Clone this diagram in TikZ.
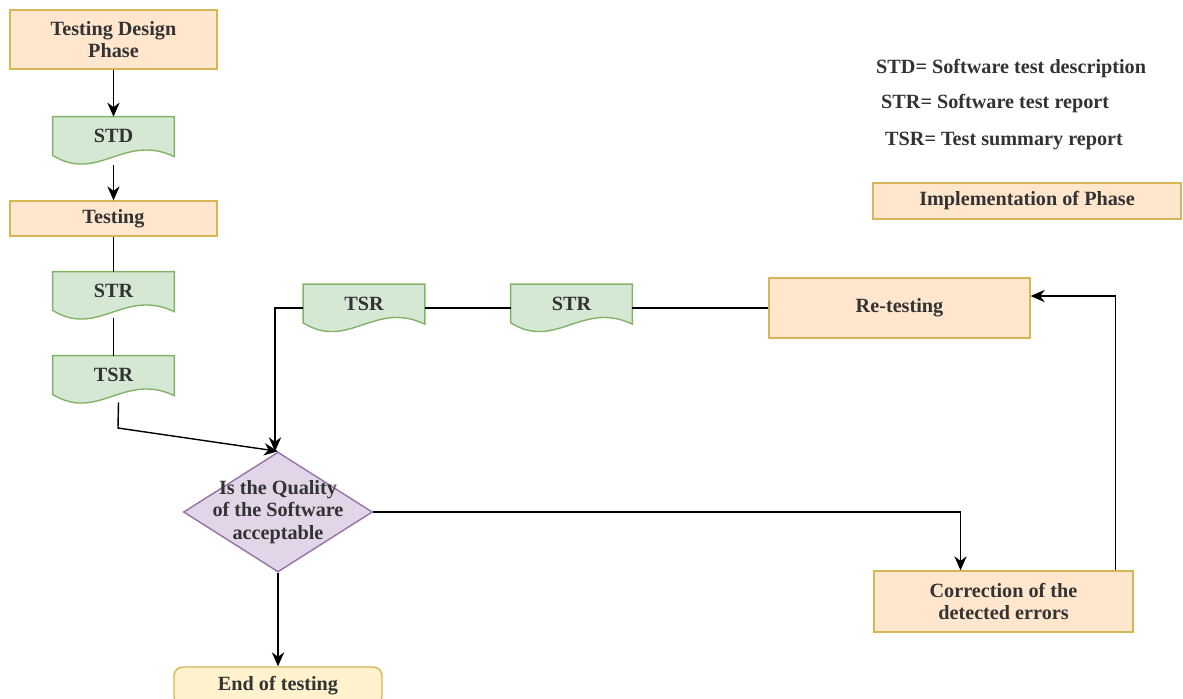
\documentclass[tikz,border=0pt]{standalone}
\usepackage{fontspec}
\setmainfont{Liberation Serif}
\usetikzlibrary{arrows.meta,backgrounds,shapes.geometric}
\definecolor{phasefill}{HTML}{FFE6CC}
\definecolor{phaseline}{HTML}{D6B656}
\definecolor{docfill}{HTML}{D5E8D4}
\definecolor{docline}{HTML}{82B366}
\definecolor{askfill}{HTML}{E1D5E7}
\definecolor{askline}{HTML}{9673A6}
\definecolor{endfill}{HTML}{FFF2CC}
\tikzset{
  every node/.style={font=\fontsize{11.5}{13}\selectfont\bfseries, text=black!80},
  phase/.style={draw=phaseline, fill=phasefill, line width=0.8pt, align=center, inner sep=2pt},
  doc/.style={minimum width=2.42cm, minimum height=0.76cm, inner sep=0pt},
  docpath/.style={draw=docline, fill=docfill, line width=0.8pt},
  ask/.style={diamond, draw=askline, fill=askfill, line width=0.8pt, inner sep=0pt, minimum width=3.78cm, minimum height=2.4cm},
  flow/.style={line width=0.8pt, -{Stealth[length=8pt,width=7pt]}},
  link/.style={line width=0.8pt}
}
\newcommand{\docshape}[1]{%
  \path[docpath] (#1.north west) -- (#1.north east) -- ++(0,40)
    .. controls +(-50,-24) and +(45,28) .. (#1.south west) -- cycle;}
\begin{document}
\begin{tikzpicture}[x=0.02cm,y=-0.02cm]
\useasboundingbox (0,0) rectangle (1183,698);

\node[phase, minimum width=4.14cm, minimum height=1.18cm] (tdp) at (113.5,39.5) {Testing Design\\Phase};
\node[doc] (std) at (113.5,136) {STD};
\node[phase, minimum width=4.14cm, minimum height=0.7cm] (test) at (113.5,218.5) {Testing};
\node[doc] (strA) at (113.5,291) {STR};
\node[doc] (tsrA) at (113.5,375) {TSR};

\node[doc] (tsrB) at (364,303.5) {TSR};
\node[doc] (strB) at (571.5,303.5) {STR};
\node[phase, minimum width=5.22cm, minimum height=1.2cm] (retest) at (899.5,308) {Re-testing};

\node[ask, label={[align=center]center:Is the Quality\\of the Software\\acceptable}] (ask) at (278,512) {};
\node[phase, minimum width=5.18cm, minimum height=1.22cm] (fix) at (1003.5,601.5) {Correction of the\\detected errors};
\node[phase, fill=endfill, rounded corners=5pt, minimum width=4.16cm, minimum height=0.76cm] (end) at (278,686) {End of testing};

\node[anchor=west] (lstd) at (870,69) {STD= Software test description};
\node[anchor=west] (lstr) at (875,104) {STR= Software test report};
\node[anchor=west] (ltsr) at (879,141) {TSR= Test summary report};
\node[phase, minimum width=6.16cm, minimum height=0.72cm] (impl) at (1027,201) {Implementation of Phase};

\begin{scope}[on background layer]
\foreach \n in {std,strA,tsrA,tsrB,strB} {\docshape{\n}}
\end{scope}

\coordinate (bend) at (118,428);
\draw[flow] (tdp.south) -- (std.north);
\draw[flow] ([yshift=-0.2cm]std.south) -- (test.north);
\draw[link] (test.south) -- (strA.north);
\draw[link] ([yshift=-0.16cm]strA.south) -- (tsrA.north);
\draw[flow] ([xshift=0.1cm,yshift=-0.16cm]tsrA.south) -- (bend) -- (ask.north);
\draw[link] (retest.west) -- (retest.west -| strB.east);
\draw[link] (strB.west |- retest.west) -- (tsrB.east |- retest.west);
\draw[flow] (tsrB.west |- retest.west) -| ([xshift=-0.06cm]ask.north);
\draw[flow] (ask.east) -| ([xshift=-0.86cm]fix.north);
\draw[flow] ([xshift=-0.36cm]fix.north east) |- ([yshift=0.24cm]retest.east);
\draw[flow] (ask.south) -- (end.north);
\end{tikzpicture}
\end{document}
